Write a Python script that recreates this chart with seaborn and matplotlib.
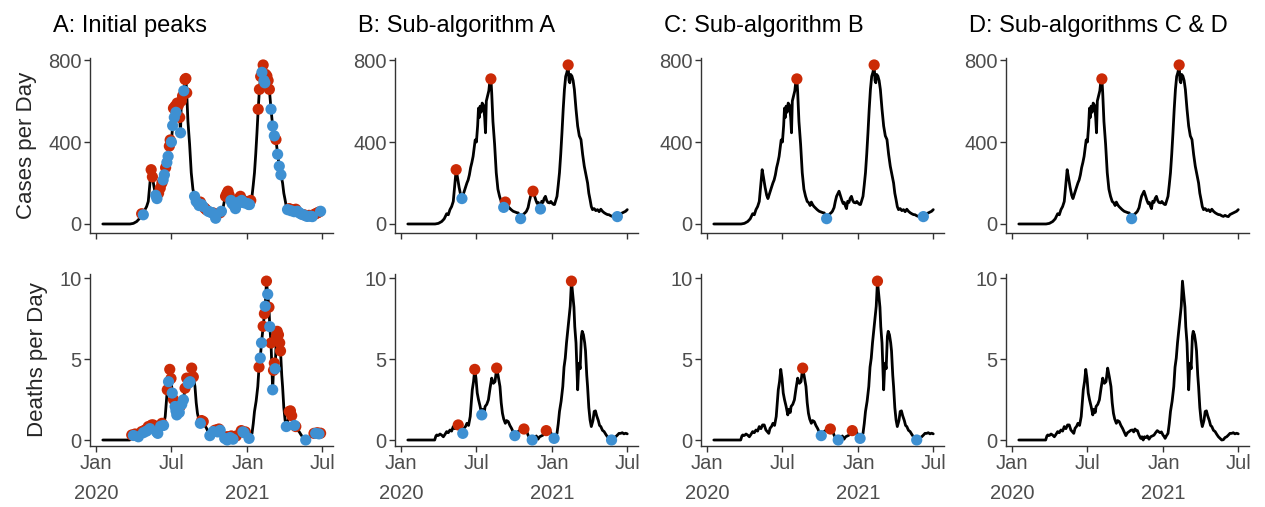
import numpy as np
import pandas as pd
import seaborn as sns
import matplotlib.pyplot as plt

start = pd.Timestamp("2020-01-01")

# daily cases (day number since 1 Jan 2020, value)
case_days = [16, 82, 90, 98, 104, 110, 114, 118, 122, 126, 130, 133, 136, 140, 144, 147,
             151, 155, 159, 162, 165, 168, 171, 174, 177, 179, 182, 185, 187, 189, 191, 193,
             196, 199, 202, 204, 206, 209, 212, 215, 217, 219, 222, 226, 230, 234, 238, 242,
             246, 249, 252, 255, 258, 262, 266, 271, 276, 280, 283, 287, 289, 292, 296, 300,
             303, 307, 310, 313, 316, 319, 322, 326, 329, 332, 334, 337, 340, 343, 346, 349,
             352, 355, 359, 362, 366, 369, 371, 374, 377, 380, 383, 386, 389, 392, 395, 398,
             401, 404, 406, 408, 410, 413, 416, 419, 423, 427, 431, 435, 439, 443, 447, 451,
             454, 457, 460, 463, 467, 471, 475, 479, 483, 487, 491, 495, 499, 503, 507, 511,
             515, 519, 523, 527, 531, 535, 539, 543, 547]
case_values = [0, 0, 3, 12, 25, 50, 45, 70, 85, 110, 200, 265, 230, 180, 140, 124,
               150, 175, 200, 215, 240, 275, 300, 330, 380, 410, 400, 480, 565, 520, 575, 545,
               590, 580, 520, 445, 600, 625, 650, 705, 710, 640, 500, 390, 250, 170, 135, 110,
               103, 90, 107, 95, 86, 78, 70, 62, 58, 55, 54, 40, 28, 30, 48, 55,
               62, 80, 110, 135, 148, 160, 140, 115, 100, 105, 90, 75, 111, 105, 125, 135,
               115, 105, 103, 110, 100, 95, 95, 115, 135, 190, 250, 340, 445, 560, 657, 720,
               740, 776, 700, 689, 730, 722, 700, 657, 560, 478, 430, 412, 340, 282, 240, 200,
               150, 119, 85, 70, 75, 65, 70, 60, 72, 62, 55, 50, 46, 45, 40, 37,
               42, 38, 36, 46, 50, 54, 58, 62, 70]

death_days = [16, 81, 84, 86, 90, 94, 98, 102, 106, 110, 114, 118, 122, 126, 130, 134,
              138, 142, 146, 149, 152, 156, 159, 163, 167, 170, 172, 175, 178, 181, 184, 187,
              191, 193, 195, 198, 201, 203, 207, 211, 215, 219, 223, 227, 231, 235, 239, 242,
              245, 248, 252, 255, 259, 263, 267, 271, 275, 279, 283, 287, 291, 294, 297, 300,
              303, 307, 311, 314, 317, 320, 324, 327, 331, 335, 339, 343, 347, 351, 355, 358,
              361, 365, 368, 370, 373, 377, 380, 383, 387, 391, 394, 397, 400, 404, 407, 409,
              412, 415, 418, 420, 423, 425, 427, 429, 431, 433, 436, 438, 441, 444, 446, 449,
              451, 454, 457, 460, 464, 467, 470, 473, 477, 480, 483, 487, 491, 495, 499, 503,
              507, 511, 515, 519, 523, 527, 531, 535, 539, 543, 547]
death_values = [0, 0, 0.25, 0.31, 0.28, 0.37, 0.3, 0.2, 0.35, 0.52, 0.45, 0.62, 0.55, 0.83, 0.7, 0.93,
                0.93, 0.62, 0.5, 0.41, 0.72, 0.85, 1.03, 0.9, 1.45, 2.4, 3.1, 3.6, 4.36, 3.8, 2.9, 2.5,
                2.07, 1.8, 1.55, 1.9, 1.7, 2.07, 2.2, 2.48, 3.2, 3.82, 3.5, 3.6, 4.44, 3.9, 3.3, 2.3,
                1.65, 1.3, 1.03, 1.2, 1.14, 0.9, 0.72, 0.5, 0.27, 0.45, 0.52, 0.6, 0.62, 0.5, 0.68, 0.6,
                0.58, 0.3, 0.1, 0.2, 0.0, 0.2, 0.15, 0.25, 0.05, 0.2, 0.25, 0.3, 0.45, 0.58, 0.5, 0.45,
                0.5, 0.3, 0.2, 0.1, 0.25, 0.41, 1.0, 1.76, 2.4, 3.3, 4.5, 5.06, 6.0, 7.02, 7.8, 8.26,
                9.81, 9.0, 8.2, 7.0, 5.99, 4.5, 3.1, 4.3, 4.75, 4.4, 6.4, 6.71, 6.5, 6.0, 5.5, 4.0,
                3.3, 2.0, 1.24, 0.83, 1.2, 1.76, 1.8, 1.5, 1.2, 0.9, 0.83, 0.6, 0.52, 0.35, 0.2, 0.1,
                0.0, 0.02, 0.15, 0.2, 0.3, 0.41, 0.41, 0.45, 0.38, 0.42, 0.38]

# peaks / troughs kept by each sub-algorithm
b_case_peak_days = [133, 217, 252, 319, 404]
b_case_peak_vals = [265, 708, 107, 160, 776]
b_case_trough_days = [147, 248, 289, 337, 523]
b_case_trough_vals = [124, 81, 26, 73, 36]
c_case_peak_days = [217, 404]
c_case_peak_vals = [708, 776]
c_case_trough_days = [289, 523]
c_case_trough_vals = [26, 36]
d_case_peak_days = [217, 404]
d_case_peak_vals = [708, 776]
d_case_trough_days = [289]
d_case_trough_vals = [26]

b_death_peak_days = [138, 178, 231, 297, 351, 412]
b_death_peak_vals = [0.93, 4.36, 4.44, 0.68, 0.58, 9.81]
b_death_trough_days = [149, 195, 275, 317, 370, 509]
b_death_trough_vals = [0.41, 1.55, 0.27, 0.0, 0.1, 0.0]
c_death_peak_days = [231, 298, 351, 412]
c_death_peak_vals = [4.44, 0.68, 0.58, 9.81]
c_death_trough_days = [276, 317, 370, 507]
c_death_trough_vals = [0.27, 0.0, 0.1, 0.0]

titles = ["A: Initial peaks", "B: Sub-algorithm A", "C: Sub-algorithm B", "D: Sub-algorithms C & D"]
tick_dates = ["2020-01-01", "2020-07-01", "2021-01-01", "2021-07-01"]
tick_labels = ["Jan\n2020", "Jul", "Jan\n2021", "Jul"]

RED = "#CB2A06"
BLUE = "#3E90D2"


def to_dates(days):
    return start + pd.to_timedelta(days, unit="D")


def initial_peaks(values, min_day_idx=3):
    # every wiggle counts as a peak/trough in the raw pass
    v = np.asarray(values, dtype=float)
    peaks, troughs = [], []
    for i in range(min_day_idx, len(v) - 1):
        if v[i] <= 0 and v[i - 1] <= 0:
            continue
        is_ext = (v[i] - v[i - 1]) * (v[i + 1] - v[i]) <= 0
        flat = abs(v[i + 1] - v[i - 1]) < 0.45 * max(v[i], 1e-6)
        if not (is_ext or flat):
            continue
        if v[i] >= 0.5 * (v[i - 1] + v[i + 1]):
            peaks.append(i)
        else:
            troughs.append(i)
    return peaks, troughs


cases = pd.DataFrame({"date": to_dates(case_days), "value": case_values})
deaths = pd.DataFrame({"date": to_dates(death_days), "value": death_values})

sns.set_style("ticks")
plt.rcParams['font.family'] = ['Liberation Sans', 'DejaVu Sans']

fig = plt.figure(figsize=(12.65, 5.07), dpi=100)

lefts = [90, 395, 701, 1006]
rows = [(58, 233), (274, 446)]

markers = {
    (0, 1): (b_case_peak_days, b_case_peak_vals, b_case_trough_days, b_case_trough_vals),
    (0, 2): (c_case_peak_days, c_case_peak_vals, c_case_trough_days, c_case_trough_vals),
    (0, 3): (d_case_peak_days, d_case_peak_vals, d_case_trough_days, d_case_trough_vals),
    (1, 1): (b_death_peak_days, b_death_peak_vals, b_death_trough_days, b_death_trough_vals),
    (1, 2): (c_death_peak_days, c_death_peak_vals, c_death_trough_days, c_death_trough_vals),
    (1, 3): ([], [], [], []),
}

for r, (top, bottom) in enumerate(rows):
    df = cases if r == 0 else deaths
    for c, left in enumerate(lefts):
        ax = fig.add_axes([left / 1265, 1 - bottom / 507, 243 / 1265, (bottom - top) / 507])
        sns.lineplot(data=df, x="date", y="value", ax=ax, color="black", lw=2.0)

        if c == 0:
            pk, tr = initial_peaks(df["value"])
            sns.scatterplot(data=df.iloc[pk], x="date", y="value", ax=ax, color=RED,
                            s=65, edgecolor="none", zorder=3)
            sns.scatterplot(data=df.iloc[tr], x="date", y="value", ax=ax, color=BLUE,
                            s=65, edgecolor="none", zorder=4)
        else:
            pd_, pv, td, tv = markers[(r, c)]
            if pd_:
                sns.scatterplot(x=to_dates(pd_), y=pv, ax=ax, color=RED, s=65,
                                edgecolor="none", zorder=3)
            if td:
                sns.scatterplot(x=to_dates(td), y=tv, ax=ax, color=BLUE, s=65,
                                edgecolor="none", zorder=4)

        ax.set_xlim(pd.Timestamp("2019-12-17"), pd.Timestamp("2021-07-27"))
        if r == 0:
            ax.set_ylim(-44, 810)
            ax.set_yticks([0, 400, 800])
        else:
            ax.set_ylim(-0.37, 10.25)
            ax.set_yticks([0, 5, 10])

        ax.set_xticks(pd.to_datetime(tick_dates))
        if r == 1:
            ax.set_xticklabels(tick_labels)
            for lab in ax.get_xticklabels():
                lab.set_linespacing(1.7)
        else:
            ax.set_xticklabels([])

        ax.set_xlabel("")
        ax.set_ylabel("")
        if c == 0:
            ax.set_ylabel("Cases per Day" if r == 0 else "Deaths per Day",
                          fontsize=16, labelpad=8)

        for s in ["top", "right"]:
            ax.spines[s].set_visible(False)
        for s in ["left", "bottom"]:
            ax.spines[s].set_color("#333333")
            ax.spines[s].set_linewidth(1.0)
        ax.tick_params(axis="both", length=4, width=1.0, color="#333333",
                       labelsize=14.5, labelcolor="#4D4D4D", pad=2)

        if r == 0:
            fig.text((left - 37) / 1265, 1 - 26 / 507, titles[c], fontsize=17,
                     ha="left", va="center", color="black")

fig.savefig("out.png", dpi=100)
